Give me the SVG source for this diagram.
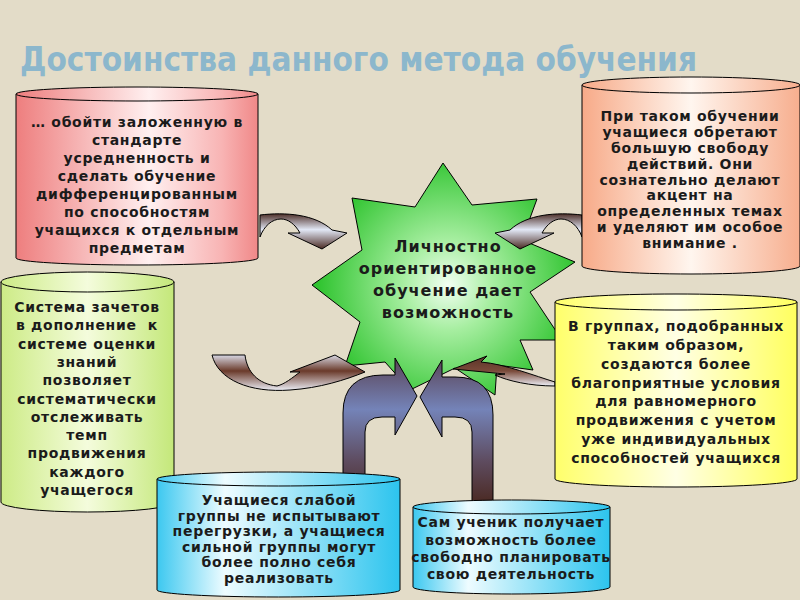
<svg xmlns="http://www.w3.org/2000/svg" width="800" height="600" viewBox="0 0 800 600">
<defs>
<linearGradient id="gPink" x1="0" y1="0" x2="1" y2="0"><stop offset="0" stop-color="#EE7E7E"/><stop offset="0.55" stop-color="#FFF0F0"/><stop offset="0.85" stop-color="#F8B4B4"/><stop offset="1" stop-color="#F08888"/></linearGradient>
<linearGradient id="gPeach" x1="0" y1="0" x2="1" y2="0"><stop offset="0" stop-color="#F7AA88"/><stop offset="0.5" stop-color="#FFF6EF"/><stop offset="1" stop-color="#F7AE8E"/></linearGradient>
<linearGradient id="gGreen" x1="0" y1="0" x2="1" y2="0"><stop offset="0" stop-color="#CDEB86"/><stop offset="0.5" stop-color="#F4FCDC"/><stop offset="1" stop-color="#C4E87A"/></linearGradient>
<linearGradient id="gYellow" x1="0" y1="0" x2="1" y2="0"><stop offset="0" stop-color="#FFFF6A"/><stop offset="0.5" stop-color="#FFFFE4"/><stop offset="1" stop-color="#FFFF5E"/></linearGradient>
<linearGradient id="gBlue" x1="0" y1="0" x2="1" y2="0"><stop offset="0" stop-color="#3CC8F0"/><stop offset="0.28" stop-color="#EEFCFF"/><stop offset="1" stop-color="#2CC4EE"/></linearGradient>
<radialGradient id="gStar" cx="448" cy="285" r="130" gradientUnits="userSpaceOnUse"><stop offset="0" stop-color="#F2FFF2"/><stop offset="0.35" stop-color="#A6EEA0"/><stop offset="1" stop-color="#30C430"/></radialGradient>
<linearGradient id="gArrA" x1="0" y1="0" x2="0" y2="1"><stop offset="0" stop-color="#4E302A"/><stop offset="0.45" stop-color="#E2E8F6"/><stop offset="1" stop-color="#4A2A22"/></linearGradient>
<linearGradient id="gArrC" x1="0" y1="0" x2="0" y2="1"><stop offset="0" stop-color="#D8D8E4"/><stop offset="0.45" stop-color="#6A3A2A"/><stop offset="1" stop-color="#ECEEF6"/></linearGradient>
<linearGradient id="gArrD" x1="0" y1="0" x2="0" y2="1"><stop offset="0" stop-color="#5A3428"/><stop offset="0.5" stop-color="#7A4A3A"/><stop offset="1" stop-color="#EEF0F8"/></linearGradient>
<linearGradient id="gU" x1="0" y1="358" x2="0" y2="505" gradientUnits="userSpaceOnUse"><stop offset="0" stop-color="#5A4456"/><stop offset="0.35" stop-color="#7483B8"/><stop offset="0.7" stop-color="#5E4C60"/><stop offset="1" stop-color="#4A2820"/></linearGradient>
<style>
.cyl{stroke:#000;stroke-width:1}
.t{font-family:"DejaVu Sans","Noto Sans",sans-serif;font-weight:bold;font-size:14px;letter-spacing:0.7px;fill:#1B1B1B;text-anchor:middle}
.st{font-family:"DejaVu Sans","Noto Sans",sans-serif;font-weight:bold;font-size:16px;letter-spacing:1px;fill:#1B1B1B;text-anchor:middle}
.arr{stroke:#000;stroke-width:1;stroke-linejoin:miter}
</style>
</defs>
<rect width="800" height="600" fill="#E3DCC8"/>
<text x="20" y="71" font-family="'DejaVu Sans Condensed','DejaVu Sans',sans-serif" font-weight="bold" font-size="33" fill="#8CB7CC" textLength="677" lengthAdjust="spacingAndGlyphs">Достоинства данного метода обучения</text>

<g id="star">
<polygon points="443,163 472,205 537,199 522,240 575,262 530,292 562,340 520,340 533,370 497,365 495,395 455,368 410,390 385,362 345,366 360,322 312,285 362,250 352,198 415,207" fill="url(#gStar)" stroke="#000" stroke-width="1"/>
<text class="st" x="448" y="252">Личностно</text>
<text class="st" x="448" y="274">ориентированное</text>
<text class="st" x="448" y="296">обучение дает</text>
<text class="st" x="448" y="318">возможность</text>
</g>

<g id="connectors">
<path class="arr" fill="url(#gArrA)" d="M260,215 C285,212 315,214 332,230 L347,233 L322,249 L288,233 L300,233 C295,224 288,219 281,219 C272,219 264,226 260,237 Z"/>
<path class="arr" fill="url(#gArrA)" d="M582,215 C557,212 527,214 510,230 L495,233 L520,249 L554,233 L542,233 C547,224 554,219 561,219 C570,219 578,226 582,237 Z"/>
<path class="arr" fill="url(#gArrC)" d="M212,355 L245,355 C247,372 258,384 277,386 C285,384 292,378 300,372 L290,372 L335,355 L365,372 C345,380 320,388 290,390 C250,393 218,380 212,355 Z"/>
<path class="arr" fill="url(#gArrD)" d="M453,369 L487,356 L481,362 C505,364 535,376 555,382 L555,386 C530,386 508,381 495,375 L505,374 Z"/>
<path class="arr" fill="url(#gU)" d="M343,480 L343,413 Q343,375 383,375 L395,375 L395,358 L417,396 L395,435 L395,417 L382,417 Q365,417 365,432 L365,480 Z"/>
<path class="arr" fill="url(#gU)" d="M493,505 L493,415 Q493,377 455,377 L442,377 L442,360 L420,397 L442,437 L442,417 L455,417 Q472,417 472,432 L472,505 Z"/>
</g>

<g id="pink">
<path class="cyl" fill="url(#gPink)" d="M16,94 L16,258 A121,7 0 0 0 258,258 L258,94 Z"/>
<ellipse class="cyl" fill="url(#gPink)" cx="137" cy="94" rx="121" ry="7"/>
<text class="t" x="137" y="127">… обойти заложенную в</text>
<text class="t" x="137" y="145">стандарте</text>
<text class="t" x="137" y="163">усредненность и</text>
<text class="t" x="137" y="181">сделать обучение</text>
<text class="t" x="137" y="199">дифференцированным</text>
<text class="t" x="137" y="217">по способностям</text>
<text class="t" x="137" y="235">учащихся к отдельным</text>
<text class="t" x="137" y="253">предметам</text>
</g>

<g id="peach">
<path class="cyl" fill="url(#gPeach)" d="M582,85 L582,266 A109,8 0 0 0 800,266 L800,85 Z"/>
<ellipse class="cyl" fill="url(#gPeach)" cx="691" cy="85" rx="109" ry="8"/>
<text class="t" x="690" y="121">При таком обучении</text>
<text class="t" x="690" y="137">учащиеся обретают</text>
<text class="t" x="690" y="153">большую свободу</text>
<text class="t" x="690" y="169">действий. Они</text>
<text class="t" x="690" y="185">сознательно делают</text>
<text class="t" x="690" y="200">акцент на</text>
<text class="t" x="690" y="216">определенных темах</text>
<text class="t" x="690" y="232">и уделяют им особое</text>
<text class="t" x="690" y="248">внимание .</text>
</g>

<g id="green">
<path class="cyl" fill="url(#gGreen)" d="M1,282 L1,502 A86.5,10 0 0 0 174,502 L174,282 Z"/>
<ellipse class="cyl" fill="url(#gGreen)" cx="87.5" cy="282" rx="86.5" ry="10"/>
<text class="t" x="87" y="312">Система зачетов</text>
<text class="t" x="87" y="330" xml:space="preserve">в дополнение  к</text>
<text class="t" x="87" y="349">системе оценки</text>
<text class="t" x="87" y="367">знаний</text>
<text class="t" x="87" y="385">позволяет</text>
<text class="t" x="87" y="404">систематически</text>
<text class="t" x="87" y="422">отслеживать</text>
<text class="t" x="87" y="440">темп</text>
<text class="t" x="87" y="458">продвижения</text>
<text class="t" x="87" y="477">каждого</text>
<text class="t" x="87" y="495">учащегося</text>
</g>

<g id="yellow">
<path class="cyl" fill="url(#gYellow)" d="M555,302 L555,479 A121,8 0 0 0 797,479 L797,302 Z"/>
<ellipse class="cyl" fill="url(#gYellow)" cx="676" cy="302" rx="121" ry="8"/>
<text class="t" x="676" y="331">В группах, подобранных</text>
<text class="t" x="676" y="350">таким образом,</text>
<text class="t" x="676" y="369">создаются более</text>
<text class="t" x="676" y="388">благоприятные условия</text>
<text class="t" x="676" y="406">для равномерного</text>
<text class="t" x="676" y="425">продвижения с учетом</text>
<text class="t" x="676" y="444">уже индивидуальных</text>
<text class="t" x="676" y="463">способностей учащихся</text>
</g>

<g id="blue1">
<path class="cyl" fill="url(#gBlue)" d="M157,479 L157,590 A121.5,7 0 0 0 400,590 L400,479 Z"/>
<ellipse class="cyl" fill="url(#gBlue)" cx="278.5" cy="479" rx="121.5" ry="7"/>
<text class="t" x="279" y="505">Учащиеся слабой</text>
<text class="t" x="279" y="520.5">группы не испытывают</text>
<text class="t" x="279" y="536">перегрузки, а учащиеся</text>
<text class="t" x="279" y="551.5">сильной группы могут</text>
<text class="t" x="279" y="567">более полно себя</text>
<text class="t" x="279" y="582.5">реализовать</text>
</g>

<g id="blue2">
<path class="cyl" fill="url(#gBlue)" d="M413,507 L413,587 A98.5,7 0 0 0 610,587 L610,507 Z"/>
<ellipse class="cyl" fill="url(#gBlue)" cx="511.5" cy="507" rx="98.5" ry="7"/>
<text class="t" x="511" y="527">Сам ученик получает</text>
<text class="t" x="511" y="545">возможность более</text>
<text class="t" x="511" y="562">свободно планировать</text>
<text class="t" x="511" y="579">свою деятельность</text>
</g>
</svg>
